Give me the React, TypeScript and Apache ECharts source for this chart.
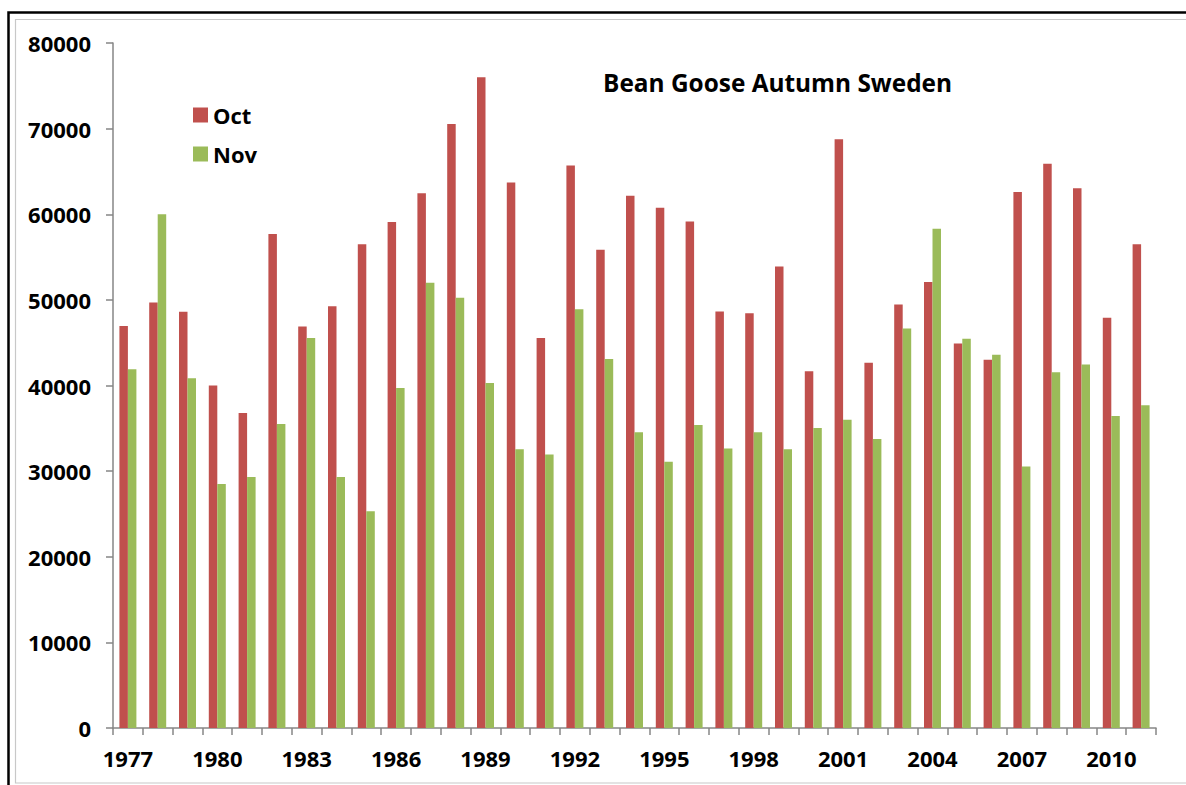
import React, { useEffect, useRef } from "react";
import * as echarts from "echarts";

const years: string[] = [
  "1977", "1978", "1979", "1980", "1981", "1982", "1983", "1984", "1985", "1986",
  "1987", "1988", "1989", "1990", "1991", "1992", "1993", "1994", "1995", "1996",
  "1997", "1998", "1999", "2000", "2001", "2002", "2003", "2004", "2005", "2006",
  "2007", "2008", "2009", "2010", "2011",
];

const octValues: number[] = [
  46950, 49700, 48600, 40000, 36800, 57700, 46900, 49250, 56500, 59100,
  62450, 70550, 76000, 63700, 45550, 65700, 55850, 62150, 60750, 59150,
  48650, 48450, 53900, 41650, 68750, 42650, 49450, 52100, 44900, 43000,
  62600, 65900, 63050, 47900, 56500,
];

const novValues: number[] = [
  41900, 60000, 40850, 28500, 29300, 35500, 45550, 29300, 25300, 39700,
  52000, 50250, 40300, 32550, 31950, 48900, 43100, 34550, 31100, 35400,
  32650, 34550, 32550, 35050, 36000, 33750, 46650, 58300, 45450, 43600,
  30550, 41550, 42450, 36450, 37700,
];

const seriesNames: string[] = ["Oct", "Nov"];
const titleText = "Bean Goose Autumn Sweden";

const FONT = "'Open Sans', 'Noto Sans', sans-serif";

export default function App() {
  const ref = useRef<HTMLDivElement>(null);

  useEffect(() => {
    if (!ref.current) return;
    const chart = echarts.init(ref.current, null, { renderer: "svg" });
    chart.setOption({
      animation: false,
      backgroundColor: "#ffffff",
      textStyle: { fontFamily: FONT },
      title: {
        text: titleText,
        left: 603,
        top: 70,
        padding: 0,
        textStyle: { fontFamily: FONT, fontWeight: "bold", fontSize: 24.4, color: "#000" },
      },
      legend: {
        data: seriesNames,
        orient: "vertical",
        left: 193,
        top: 104,
        padding: 0,
        itemWidth: 15,
        itemHeight: 15,
        itemGap: 17,
        icon: "rect",
        textStyle: { fontFamily: FONT, fontWeight: "bold", fontSize: 22, color: "#000" },
      },
      grid: { left: 113, right: 30, top: 43, bottom: 57, containLabel: false },
      xAxis: {
        type: "category",
        data: years,
        boundaryGap: true,
        axisLine: { lineStyle: { color: "#868686", width: 1.5 } },
        axisTick: { show: true, interval: 0, length: 7, lineStyle: { color: "#868686", width: 1.5 } },
        axisLabel: {
          interval: 2,
          margin: 19,
          fontFamily: FONT,
          fontWeight: "bold",
          fontSize: 22,
          color: "#000",
        },
        splitLine: { show: false },
      },
      yAxis: {
        type: "value",
        min: 0,
        max: 80000,
        interval: 10000,
        axisLine: { show: true, lineStyle: { color: "#868686", width: 1.5 } },
        axisTick: { show: true, length: 7, lineStyle: { color: "#868686", width: 1.5 } },
        axisLabel: {
          margin: 22,
          formatter: (v: number) => String(v),
          fontFamily: FONT,
          fontWeight: "bold",
          fontSize: 22,
          color: "#000",
        },
        splitLine: { show: false },
      },
      series: [
        {
          name: seriesNames[0],
          type: "bar",
          data: octValues,
          barWidth: 8.5,
          barGap: "0%",
          itemStyle: { color: "#C0504D" },
        },
        {
          name: seriesNames[1],
          type: "bar",
          data: novValues,
          barWidth: 8.5,
          barGap: "0%",
          itemStyle: { color: "#9BBB59" },
        },
      ],
      graphic: [
        {
          type: "rect",
          silent: true,
          z: 100,
          shape: { x: 8.5, y: 12.5, width: 1300, height: 900 },
          style: { fill: "none", stroke: "#000", lineWidth: 2.5 },
        },
        {
          type: "rect",
          silent: true,
          z: 100,
          shape: { x: 15.5, y: 19.5, width: 1300, height: 763.5 },
          style: { fill: "none", stroke: "#c8c8c8", lineWidth: 1.2 },
        },
      ],
    });
    return () => chart.dispose();
  }, []);

  return (
    <div
      ref={ref}
      style={{ position: "absolute", left: 0, top: 0, width: 1186, height: 785 }}
    />
  );
}
